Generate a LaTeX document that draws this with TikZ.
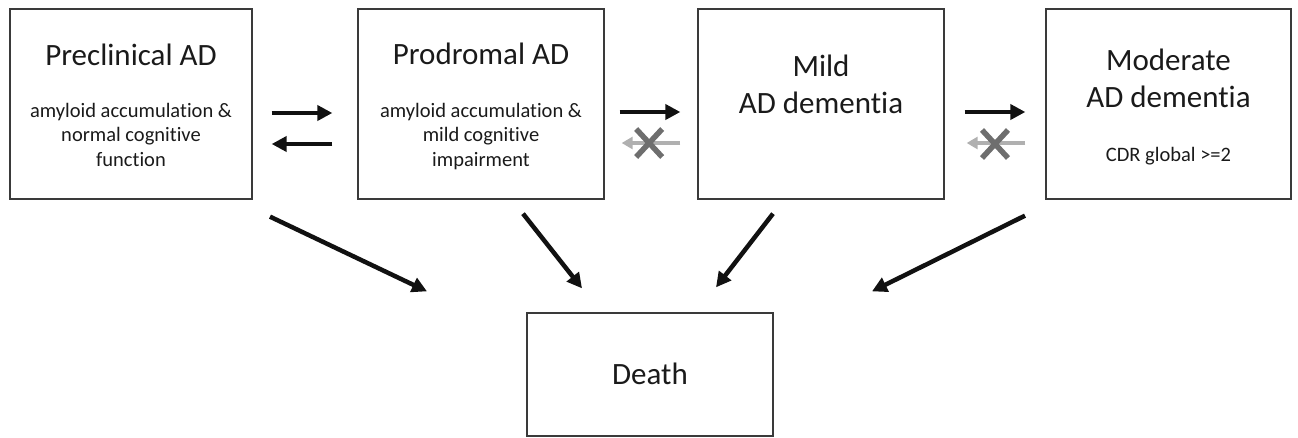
\documentclass[tikz,border=0pt]{standalone}
\usepackage{fontspec}
\setmainfont{Carlito}[Ligatures=NoCommon,RawFeature=-liga]
\usetikzlibrary{arrows.meta,calc}
\definecolor{txt}{HTML}{1A1A1A}
\definecolor{boxc}{HTML}{3A3A3A}
\definecolor{arr}{HTML}{111111}
\definecolor{ghost}{HTML}{B0B0B0}
\definecolor{xcol}{HTML}{6E6E6E}
\begin{document}
\begin{tikzpicture}[x=1pt,y=-1pt,
  stage/.style={draw=boxc,line width=1.3pt,inner sep=0pt,minimum height=190pt},
  ttl/.style={anchor=base,inner sep=0pt,text=txt,font=\fontsize{31}{36}\selectfont},
  sub/.style={anchor=base,inner sep=0pt,text=txt,font=\fontsize{20.5}{24.5}\selectfont},
  fwd/.style={draw=arr,line width=4.5pt,-{Triangle[length=15pt,width=15pt]}},
  blocked/.style={draw=ghost,line width=4pt,-{Triangle[length=11pt,width=12pt]}},
  xmark/.style={draw=xcol,line width=5.5pt}]
\useasboundingbox (0,0) rectangle (1298,437);

% boxes
\node[stage,minimum width=242pt] (pre) at (131,104) {};
\node[stage,minimum width=246pt] (pro) at (481,104) {};
\node[stage,minimum width=246pt] (mild) at (821,104) {};
\node[stage,minimum width=245pt] (mod) at (1168.5,104) {};
\node[stage,minimum width=246pt,minimum height=123pt] (death) at (650,374.5) {};

% texts
\node[ttl] (preT) at (131,65) {Preclinical AD};
\node[sub] (preS1) at (131,117) {amyloid accumulation \&};
\node[sub] (preS2) at (131,141.5) {normal cognitive};
\node[sub] (preS3) at (131,166) {function};

\node[ttl] (proT) at (481,64) {Prodromal AD};
\node[sub] (proS1) at (481,117) {amyloid accumulation \&};
\node[sub] (proS2) at (481,141.5) {mild cognitive};
\node[sub] (proS3) at (481,166) {impairment};

\node[ttl] (mildT1) at (821,76) {Mild};
\node[ttl] (mildT2) at (821,113) {AD dementia};

\node[ttl] (modT1) at (1168.5,70) {Moderate};
\node[ttl] (modT2) at (1168.5,107) {AD dementia};
\node[sub] (modS) at (1168.5,161) {CDR global >=2};

\node[ttl] (deathT) at (650,384) {Death};

% transitions between stages
\draw[fwd] ($(pre.east)+(19,9)$) -- ($(pro.west)+(-25,9)$);
\draw[fwd] ($(pro.west)+(-25,40)$) -- ($(pre.east)+(19,40)$);

\draw[fwd] ($(pro.east)+(15,8)$) -- ($(mild.west)+(-17,8)$);
\draw[blocked] ($(mild.west)+(-17,39)$) -- ($(pro.east)+(17,39)$);
\coordinate (x1) at ($($(pro.east)!0.48!(mild.west)$)+(0,39)$);
\draw[xmark] ([shift={(-13,-14)}]x1) -- ([shift={(13,14)}]x1)
             ([shift={(-13,14)}]x1) -- ([shift={(13,-14)}]x1);

\draw[fwd] ($(mild.east)+(20,8)$) -- ($(mod.west)+(-20,8)$);
\draw[blocked] ($(mod.west)+(-20,39)$) -- ($(mild.east)+(22,39)$);
\coordinate (x2) at ($($(mild.east)!0.5!(mod.west)$)+(0,40)$);
\draw[xmark] ([shift={(-13,-14)}]x2) -- ([shift={(13,14)}]x2)
             ([shift={(-13,14)}]x2) -- ([shift={(13,-14)}]x2);

% to death
\draw[fwd] ($(pre.south)+(139,17)$) -- ($(death.north)+(-223,-21)$);
\draw[fwd] ($(pro.south)+(42,14)$) -- ($(death.north)+(-68,-24)$);
\draw[fwd] ($(mild.south)+(-48,14)$) -- ($(death.north)+(66,-25)$);
\draw[fwd] ($(mod.south)+(-143.5,16)$) -- ($(death.north)+(222,-21)$);
\end{tikzpicture}
\end{document}
